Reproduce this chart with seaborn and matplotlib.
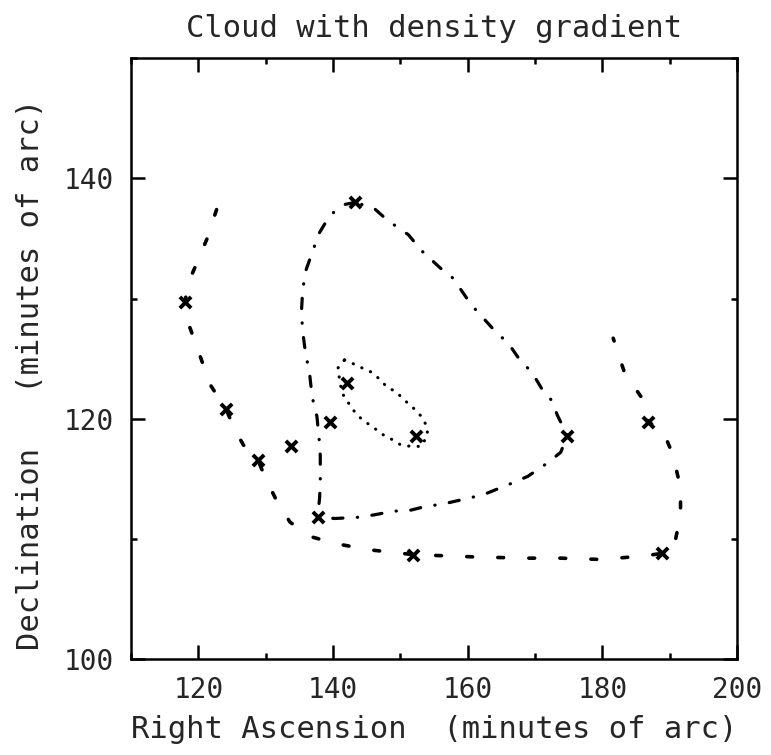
import matplotlib
matplotlib.use("Agg")
import matplotlib.pyplot as plt
from matplotlib.ticker import MultipleLocator
import seaborn as sns
import pandas as pd

# Outer dashed curve
outer_ra = [122.7, 121.3, 119.8, 118.5, 118.0, 118.4, 119.5, 120.7, 121.9, 124.1, 125.4,
            126.7, 128.8, 130.1, 131.6, 133.6, 136.6, 140.5, 145.3, 151.8, 156.3, 161.2,
            168.5, 173.8, 179.2, 182.2, 186.4, 188.9, 190.7, 191.6, 191.6, 190.4, 188.9,
            186.8, 185.9, 183.3, 181.6]
outer_dec = [137.4, 135.0, 133.0, 131.3, 129.7, 128.1, 126.4, 124.5, 122.7, 120.8, 119.1,
             117.8, 116.6, 114.9, 113.2, 111.4, 110.2, 109.6, 109.1, 108.7, 108.6, 108.5,
             108.4, 108.4, 108.3, 108.4, 108.6, 108.8, 109.5, 112.0, 114.3, 117.1, 119.1,
             119.7, 121.7, 123.8, 126.7]

# Dash-dot loop
mid_ra = [143.3, 141.5, 139.5, 137.9, 136.0, 135.5, 135.3, 135.5, 135.9, 136.5, 136.9,
          137.6, 138.0, 138.1, 138.1, 138.0, 137.7, 140.3, 143.7, 146.1, 148.9, 151.6,
          153.7, 156.3, 160.2, 162.4, 166.4, 168.9, 171.8, 173.8, 174.8, 173.3, 172.5,
          171.1, 169.6, 167.6, 166.0, 164.2, 162.1, 160.5, 157.8, 156.0, 153.1, 151.2,
          148.1, 146.1, 143.3]
mid_dec = [138.0, 137.8, 136.9, 135.4, 132.4, 130.8, 128.9, 127.2, 125.5, 123.8, 121.8,
           120.2, 117.9, 116.9, 114.9, 113.4, 111.8, 111.7, 111.8, 112.0, 112.3, 112.4,
           112.7, 112.9, 113.4, 113.7, 114.6, 115.2, 116.3, 117.2, 118.6, 120.3, 121.5,
           122.4, 123.8, 125.0, 126.3, 127.2, 128.5, 129.5, 131.7, 132.5, 134.0, 135.3,
           136.5, 137.5, 138.0]

# Dotted inner loop
inner_ra = [141.7, 142.9, 144.4, 145.6, 146.9, 147.9, 149.4, 150.9, 152.1, 153.1, 154.0,
            154.0, 153.1, 151.6, 150.1, 149.0, 147.6, 146.4, 145.4, 144.4, 143.4, 142.7,
            141.9, 141.3, 140.9, 140.7, 141.7]
inner_dec = [124.9, 124.6, 124.2, 123.9, 123.3, 122.7, 122.2, 121.4, 120.8, 120.2, 119.3,
             118.6, 117.7, 117.7, 117.8, 118.2, 118.6, 119.1, 119.5, 119.9, 120.4, 121.0,
             121.6, 122.2, 123.5, 124.2, 124.9]

# Cross markers
cross_ra = [118.0, 124.1, 128.8, 133.7, 139.6, 137.7, 143.3, 142.0, 152.3, 151.8, 174.8, 186.8, 188.9]
cross_dec = [129.7, 120.8, 116.6, 117.7, 119.7, 111.8, 138.0, 123.0, 118.6, 108.7, 118.6, 119.7, 108.8]

x_ticks = [120, 140, 160, 180, 200]
y_ticks = [100, 120, 140]

sns.set_theme(style="ticks")
plt.rcParams['font.family'] = ['DejaVu Sans Mono', 'DejaVu Sans']
plt.rcParams['axes.linewidth'] = 1.8

fig = plt.figure(figsize=(7.71, 7.55), dpi=100)
ax = fig.add_axes([0.170, 0.127, 0.786, 0.796])

sns.lineplot(x=outer_ra, y=outer_dec, sort=False, estimator=None, ax=ax, color='black',
             lw=2.6, linestyle=(0, (1.6, 7.0)), dash_capstyle='round')
sns.lineplot(x=mid_ra, y=mid_dec, sort=False, estimator=None, ax=ax, color='black',
             lw=2.3, linestyle=(0, (3.2, 4.5, 0.1, 4.5)), dash_capstyle='round')
sns.lineplot(x=inner_ra, y=inner_dec, sort=False, estimator=None, ax=ax, color='black',
             lw=2.2, linestyle=(0, (0.1, 3.0)), dash_capstyle='round')
sns.scatterplot(x=cross_ra, y=cross_dec, ax=ax, marker='x', s=65, color='black',
                linewidth=2.8, zorder=5)

ax.set_xlim(110, 200)
ax.set_ylim(100, 150)
ax.set_xticks(x_ticks)
ax.set_yticks(y_ticks)
ax.xaxis.set_minor_locator(MultipleLocator(10))
ax.yaxis.set_minor_locator(MultipleLocator(10))
ax.tick_params(which='both', direction='in', top=True, right=True, width=1.8, color='black')
ax.tick_params(which='major', length=10, labelsize=20, pad=12)
ax.tick_params(which='minor', length=4.5)
for s in ax.spines.values():
    s.set_visible(True)
    s.set_color('black')

ax.set_xlabel("Right Ascension  (minutes of arc)", fontsize=22, labelpad=8)
ax.set_ylabel("Declination   (minutes of arc)", fontsize=22)
ax.yaxis.set_label_coords(-0.142, 0.473)
ax.set_title("Cloud with density gradient", fontsize=22, pad=15)

fig.savefig("out.png", dpi=100)
